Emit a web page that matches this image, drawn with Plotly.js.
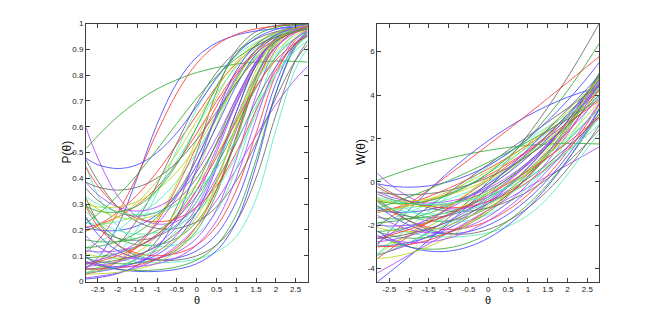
<!DOCTYPE html>
<html><head><meta charset="utf-8">
<script src="https://cdn.plot.ly/plotly-3.0.1.min.js"></script>
<style>html,body{margin:0;padding:0;background:#fff}#chart{width:662px;height:317px}</style>
</head><body><div id="chart"></div>
<script>
// ability grid (theta) at which each item's W(theta) was read
const theta = [-2.8,-2.5,-2,-1.5,-1,-0.5,0,0.5,1,1.5,2,2.5,2.8];

// W(theta) per item (right panel); P(theta) = logistic(W) (left panel)
const wCurves = [
[0.06,0.26,0.57,0.84,1.08,1.28,1.45,1.58,1.68,1.74,1.77,1.76,1.74],
[0.39,-0.09,-0.7,-1.09,-1.25,-1.19,-0.9,-0.39,0.35,1.31,2.5,3.91,4.87],
[-4.21,-3.9,-3.38,-2.86,-2.34,-1.82,-1.3,-0.78,-0.26,0.26,0.78,1.3,1.61],
[-3.39,-3.21,-2.82,-2.3,-1.66,-0.89,0,1.02,2.16,3.43,4.82,6.34,7.31],
[-2.92,-2.29,-1.3,-0.39,0.45,1.21,1.9,2.51,3.05,3.51,3.9,4.21,4.36],
[-2.06,-1.68,-1.02,-0.36,0.32,1.0,1.7,2.4,3.12,3.85,4.58,5.33,5.78],
[-1.9,-2.1,-2.35,-2.5,-2.55,-2.5,-2.35,-2.05,-1.55,-0.75,0.35,1.55,2.25],
[-1.32,-1.26,-1.1,-0.86,-0.55,-0.16,0.3,0.84,1.45,2.14,2.9,3.74,4.28],
[-2.29,-2.25,-2.1,-1.85,-1.5,-1.05,-0.5,0.15,0.9,1.75,2.7,3.75,4.43],
[-1.14,-1.36,-1.6,-1.66,-1.55,-1.26,-0.8,-0.16,0.65,1.64,2.8,4.14,5.02],
[-1.23,-1.25,-1.2,-1.05,-0.8,-0.45,0,0.55,1.2,1.95,2.8,3.75,4.37],
[-3.04,-2.86,-2.5,-2.06,-1.55,-0.96,-0.3,0.44,1.25,2.14,3.1,4.14,4.8],
[-2.0,-2.04,-2.0,-1.84,-1.55,-1.14,-0.6,0.06,0.85,1.76,2.8,3.96,4.72],
[-2.96,-2.94,-2.8,-2.54,-2.15,-1.64,-1.0,-0.24,0.65,1.66,2.8,4.06,4.88],
[-1.42,-1.28,-1.0,-0.68,-0.3,0.13,0.6,1.13,1.7,2.33,3.0,3.73,4.18],
[-0.86,-1.2,-1.6,-1.8,-1.8,-1.6,-1.2,-0.6,0.2,1.2,2.4,3.8,4.74],
[-0.57,-0.78,-1.0,-1.08,-1.0,-0.78,-0.4,0.13,0.8,1.63,2.6,3.73,4.47],
[-0.21,-0.69,-1.3,-1.69,-1.85,-1.79,-1.5,-0.99,-0.25,0.71,1.9,3.31,4.27],
[-3.33,-2.99,-2.4,-1.79,-1.15,-0.49,0.2,0.91,1.65,2.41,3.2,4.01,4.51],
[-3.36,-3.21,-2.9,-2.51,-2.05,-1.51,-0.9,-0.21,0.55,1.39,2.3,3.29,3.92],
[-1.32,-1.39,-1.4,-1.29,-1.05,-0.69,-0.2,0.41,1.15,2.01,3.0,4.11,4.84],
[-0.9,-1.3,-1.8,-2.1,-2.2,-2.1,-1.8,-1.3,-0.6,0.3,1.4,2.7,3.58],
[-1.65,-1.7,-1.7,-1.6,-1.4,-1.1,-0.7,-0.2,0.4,1.1,1.9,2.8,3.39],
[-2.84,-2.45,-1.8,-1.15,-0.5,0.15,0.8,1.45,2.1,2.75,3.4,4.05,4.44],
[-1.9,-1.73,-1.4,-1.03,-0.6,-0.13,0.4,0.98,1.6,2.28,3.0,3.78,4.26],
[-2.11,-2.23,-2.3,-2.23,-2.0,-1.63,-1.1,-0.43,0.4,1.38,2.5,3.78,4.61],
[-0.47,-0.68,-0.9,-0.98,-0.9,-0.68,-0.3,0.23,0.9,1.73,2.7,3.83,4.57],
[-1.1,-1.5,-2.0,-2.3,-2.4,-2.3,-2.0,-1.5,-0.8,0.1,1.2,2.5,3.38],
[-3.54,-3.15,-2.5,-1.85,-1.2,-0.55,0.1,0.75,1.4,2.05,2.7,3.35,3.74],
[-2.3,-2.46,-2.6,-2.56,-2.35,-1.96,-1.4,-0.66,0.25,1.34,2.6,4.04,4.98],
[-0.74,-1.2,-1.8,-2.2,-2.4,-2.4,-2.2,-1.8,-1.2,-0.4,0.6,1.8,2.62],
[-3.33,-2.86,-2.1,-1.36,-0.65,0.04,0.7,1.34,1.95,2.54,3.1,3.64,3.95],
[-0.85,-0.9,-0.9,-0.8,-0.6,-0.3,0.1,0.6,1.2,1.9,2.7,3.6,4.19],
[-1.54,-1.85,-2.2,-2.35,-2.3,-2.05,-1.6,-0.95,-0.1,0.95,2.2,3.65,4.62],
[-4.62,-4.19,-3.45,-2.69,-1.9,-1.09,-0.25,0.61,1.5,2.41,3.35,4.31,4.9],
[-0.23,-0.53,-0.9,-1.13,-1.2,-1.13,-0.9,-0.53,0.0,0.68,1.5,2.48,3.13],
[-1.89,-1.85,-1.7,-1.45,-1.1,-0.65,-0.1,0.55,1.3,2.15,3.1,4.15,4.83],
[-0.11,-0.45,-0.9,-1.2,-1.35,-1.35,-1.2,-0.9,-0.45,0.15,0.9,1.8,2.41],
[-1.0,-1.19,-1.4,-1.49,-1.45,-1.29,-1.0,-0.59,-0.05,0.61,1.4,2.31,2.92],
[-1.4,-1.31,-1.1,-0.81,-0.45,-0.01,0.5,1.09,1.75,2.49,3.3,4.19,4.76],
[-2.77,-2.7,-2.5,-2.2,-1.8,-1.3,-0.7,0.0,0.8,1.7,2.7,3.8,4.51],
[-0.09,-0.19,-0.25,-0.19,0.0,0.31,0.75,1.31,2.0,2.81,3.75,4.81,5.51],
[-2.98,-2.99,-2.9,-2.69,-2.35,-1.89,-1.3,-0.59,0.25,1.21,2.3,3.51,4.3],
[-2.46,-2.71,-3.0,-3.11,-3.05,-2.81,-2.4,-1.81,-1.05,-0.11,1.0,2.29,3.14],
[-0.47,-0.55,-0.6,-0.55,-0.4,-0.15,0.2,0.65,1.2,1.85,2.6,3.45,4.01],
[-3.38,-3.18,-2.8,-2.38,-1.9,-1.38,-0.8,-0.18,0.5,1.23,2.0,2.83,3.34],
[-0.78,-0.94,-1.1,-1.14,-1.05,-0.84,-0.5,-0.04,0.55,1.26,2.1,3.06,3.7],
[-2.56,-2.41,-2.1,-1.71,-1.25,-0.71,-0.1,0.59,1.35,2.19,3.1,4.09,4.72],
[-2.26,-2.6,-3.0,-3.2,-3.2,-3.0,-2.6,-2.0,-1.2,-0.2,1.0,2.4,3.34],
[-2.62,-2.48,-2.2,-1.88,-1.5,-1.08,-0.6,-0.08,0.5,1.13,1.8,2.53,2.98],
[-1.23,-1.04,-0.7,-0.34,0.05,0.46,0.9,1.36,1.85,2.36,2.9,3.46,3.81],
[-2.62,-2.56,-2.4,-2.16,-1.85,-1.46,-1.0,-0.46,0.15,0.84,1.6,2.44,2.98],
[-0.71,-0.85,-1.0,-1.05,-1.0,-0.85,-0.6,-0.25,0.2,0.75,1.4,2.15,2.65],
[-3.54,-3.49,-3.3,-2.99,-2.55,-1.99,-1.3,-0.49,0.45,1.51,2.7,4.01,4.86],
[-2.53,-2.68,-2.8,-2.78,-2.6,-2.28,-1.8,-1.18,-0.4,0.53,1.6,2.83,3.63],
[-0.89,-0.98,-1.0,-0.88,-0.6,-0.18,0.4,1.13,2.0,3.03,4.2,5.53,6.39]
];

// colour key per item
const colorKeys = ['g','p','p','k','b','r','c','r','g','k','c','y','p','b','r','g','k','c','y','p','b','r','g','k','c','y','p','b','r','g','k','c','y','p','b','r','g','k','c','y','p','b','r','g','k','c','y','p','b','r','g','k','c','y','p','g'];
const palette = {b:'#4646ff', r:'#ff3838', g:'#36aa36', k:'#6a6a6a', c:'#55f0bb', y:'#b4d81e', p:'#a846ff'};

const pTickVals = [0,0.1,0.2,0.3,0.4,0.5,0.6,0.7,0.8,0.9,1];
const pTickText = ['0','0.1','0.2','0.3','0.4','0.5','0.6','0.7','0.8','0.9','1'];
const thetaTickVals = [-2.5,-2,-1.5,-1,-0.5,0,0.5,1,1.5,2,2.5];
const thetaTickText = ['-2.5','-2','-1.5','-1','-0.5','0','0.5','1','1.5','2','2.5'];
const wTickVals = [-4,-2,0,2,4,6];
const wTickText = ['-4','-2','0','2','4','6'];

const traces = [];
wCurves.forEach((w, i) => {
  const col = palette[colorKeys[i]];
  traces.push({x: theta, y: w.map(v => 1/(1+Math.exp(-v))), xaxis:'x', yaxis:'y', mode:'lines',
    line:{color: col, width:1, shape:'spline'}, opacity:0.85, hoverinfo:'skip', showlegend:false});
  traces.push({x: theta, y: w, xaxis:'x2', yaxis:'y2', mode:'lines',
    line:{color: col, width:1, shape:'spline'}, opacity:0.85, hoverinfo:'skip', showlegend:false});
});

const W = 662, H = 317;
const fontFam = 'Liberation Sans, Arial, Helvetica, sans-serif';
const axBase = {showline:true, linecolor:'#3c3c3c', linewidth:1, mirror:'ticks', ticks:'inside', ticklen:4,
  tickcolor:'#3c3c3c', tickwidth:1, showgrid:false, zeroline:false, tickmode:'array',
  tickfont:{family:fontFam, size:8, color:'#222'}, fixedrange:true};
const yDom = [(H-281.5)/H, (H-23.5)/H];

const layout = {
  width: W, height: H, margin:{l:0,r:0,t:0,b:0}, paper_bgcolor:'#fff', plot_bgcolor:'#fff', showlegend:false,
  xaxis: Object.assign({}, axBase, {domain:[86/W, 307.5/W], range:[-2.8,2.8], tickvals:thetaTickVals, ticktext:thetaTickText, anchor:'y'}),
  yaxis: Object.assign({}, axBase, {domain:yDom, range:[0,1], tickvals:pTickVals, ticktext:pTickText, anchor:'x'}),
  xaxis2: Object.assign({}, axBase, {domain:[377.3/W, 599.3/W], range:[-2.8,2.8], tickvals:thetaTickVals, ticktext:thetaTickText, anchor:'y2'}),
  yaxis2: Object.assign({}, axBase, {domain:yDom, range:[-4.6,7.3], tickvals:wTickVals, ticktext:wTickText, anchor:'x2'}),
  annotations: [
    {text:'P(θ)', xref:'paper', yref:'paper', x:66.5/W, y:(H-152)/H, textangle:-90, showarrow:false, xanchor:'center', yanchor:'middle', font:{family:fontFam, size:12, color:'#111'}},
    {text:'θ', xref:'paper', yref:'paper', x:196.8/W, y:(H-299.5)/H, showarrow:false, xanchor:'center', yanchor:'middle', font:{family:fontFam, size:11, color:'#111'}},
    {text:'W(θ)', xref:'paper', yref:'paper', x:360.5/W, y:(H-152.5)/H, textangle:-90, showarrow:false, xanchor:'center', yanchor:'middle', font:{family:fontFam, size:12, color:'#111'}},
    {text:'θ', xref:'paper', yref:'paper', x:488.3/W, y:(H-299.5)/H, showarrow:false, xanchor:'center', yanchor:'middle', font:{family:fontFam, size:11, color:'#111'}}
  ]
};

Plotly.newPlot('chart', traces, layout, {displayModeBar:false, staticPlot:true});
</script>
</body></html>
